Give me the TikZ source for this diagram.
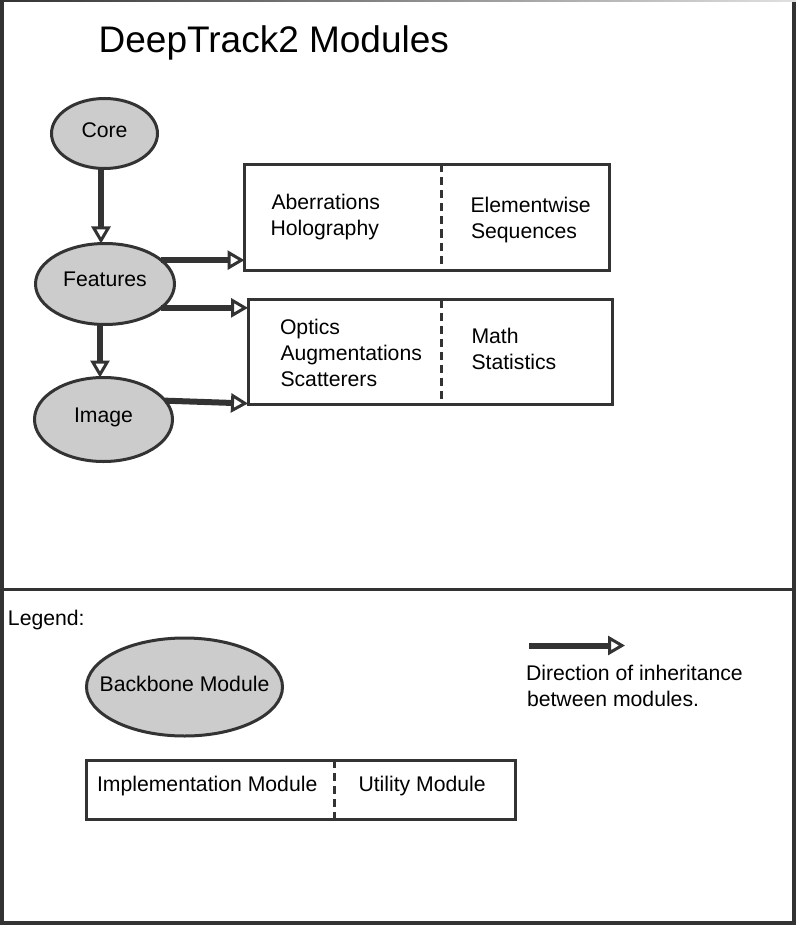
\documentclass[tikz,border=0pt]{standalone}
\usepackage{fontspec}
\setmainfont{Liberation Sans}
\usetikzlibrary{shapes.geometric,arrows.meta}
\definecolor{ln}{HTML}{333333}
\definecolor{fl}{HTML}{CCCCCC}
\newcommand\ctext[2]{\raisebox{#1}[0pt][0pt]{\makebox[0pt]{#2}}}
\begin{document}
\begin{tikzpicture}[x=1pt,y=-1pt,
  mod/.style={ellipse, draw=ln, fill=fl, line width=3pt, inner sep=0pt, outer sep=0pt, font=\fontsize{21.2}{25}\selectfont},
  modbox/.style={rectangle, draw=ln, line width=3pt, inner sep=0pt, outer sep=0pt},
  txt/.style={anchor=base west, inner sep=0pt, outer sep=0pt, font=\fontsize{21.2}{25}\selectfont},
  inh/.style={draw=ln, line width=6pt, -{Triangle[length=17pt, width=19pt, line width=3pt, fill=white]}},
  divider/.style={draw=ln, line width=3pt, dash pattern=on 8pt off 5pt}
]
\useasboundingbox (0,0) rectangle (796,925);
\fill[white] (0,0) rectangle (796,925);
% frame
\draw[ln, line width=3.5pt] (2,0) -- (2,923) -- (794,923) -- (794,2);
\shade[left color=ln, right color=black!12] (0,0) rectangle (796,2);
\draw[ln, line width=3pt] (2,589) -- (794,589);

% title
\node[anchor=base west, inner sep=0pt, font=\fontsize{37}{44}\selectfont] (title) at (98.5,52.7) {DeepTrack2 Modules};

% backbone modules
\node[mod, minimum width=106pt, minimum height=70pt] (core) at (104.5,133.5) {\ctext{-4.2pt}{Core}};
\node[mod, minimum width=139pt, minimum height=81pt] (feat) at (105,284) {\ctext{-2.7pt}{Features}};
\node[mod, minimum width=138pt, minimum height=84pt] (img) at (103.5,419.5) {\ctext{-2.8pt}{Image}};

% module boxes
\node[modbox, minimum width=365pt, minimum height=105.5pt] (b1) at (427,217.25) {};
\node[modbox, minimum width=364pt, minimum height=105pt] (b2) at (430,352) {};
\draw[divider] (441,164.5) -- (441,270);
\draw[divider] (441,299.5) -- (441,404.5);

\node[txt] (t1) at (271.5,210) {Aberrations};
\node[txt] (t2) at (270.5,236) {Holography};
\node[txt] (t3) at (470.5,213) {Elementwise};
\node[txt] (t4) at (471,239) {Sequences};
\node[txt] (t5) at (280,334) {Optics};
\node[txt] (t6) at (280.5,360) {Augmentations};
\node[txt] (t7) at (280.5,386) {Scatterers};
\node[txt] (t8) at (471.5,343.5) {Math};
\node[txt] (t9) at (471.5,369.5) {Statistics};

% inheritance arrows
\draw[inh] ([xshift=-3.5pt]core.south) -- ([xshift=-4pt]feat.north);
\draw[inh] ([xshift=-5pt]feat.south) -- ([xshift=-3.5pt]img.north);
\draw[inh] (feat.23) -- (feat.23 -| b1.west);
\draw[inh] (feat.-23) -- (feat.-23 -| b2.west);
\draw[inh] (img.17) -- ([yshift=1pt]b2.south west);

% legend
\node[txt] (leg) at (8,625.5) {Legend:};
\node[mod, minimum width=196pt, minimum height=98pt] (bb) at (184.5,687) {\ctext{-4pt}{Backbone Module}};
\node[modbox, minimum width=428.8pt, minimum height=59.5pt] (lb) at (301.1,789.75) {};
\draw[divider] (334,760) -- (334,819.5);
\node[txt] (li) at (97,791) {Implementation Module};
\node[txt] (lu) at (358.5,791) {Utility Module};
\coordinate (la1) at (529,645.5);
\coordinate (la2) at (625,645.5);
\draw[inh] (la1) -- (la2);
\node[txt] (ld1) at (526,680) {Direction of inheritance};
\node[txt] (ld2) at (527,706.5) {between modules.};
\end{tikzpicture}
\end{document}
